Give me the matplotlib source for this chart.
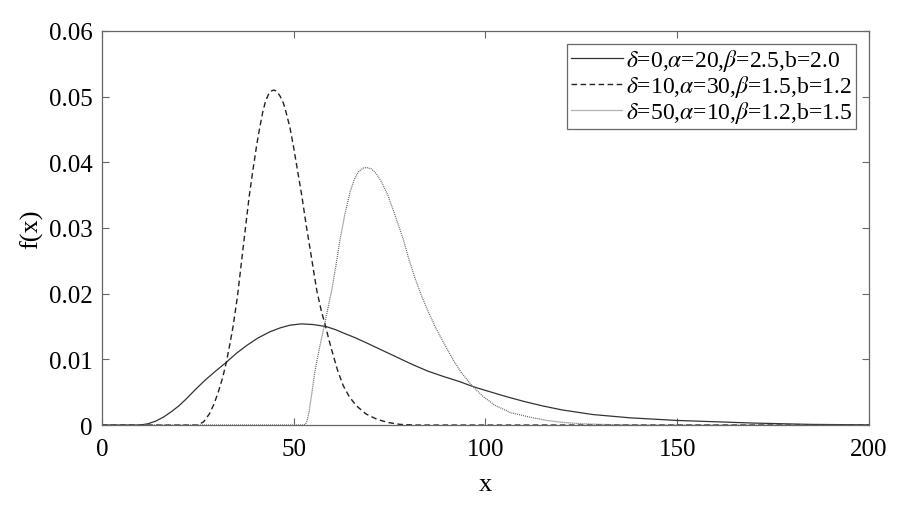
import matplotlib
matplotlib.use('Agg')
import matplotlib.pyplot as plt

plt.rcParams['font.family'] = ['Liberation Serif', 'DejaVu Serif']
plt.rcParams['mathtext.fontset'] = 'stix'

# Curve points
x_solid = [0, 10, 12, 14, 16, 18, 20, 22, 24.5, 27, 30, 32.5, 35, 37.7, 40.5, 43.8, 46.5, 49,
           52, 55, 58.4, 61, 63, 66, 69, 73, 77, 81, 85, 89, 93.3, 97, 101, 105, 110, 115,
           120, 128, 137.7, 150, 160, 170, 185, 200]
y_solid = [0, 0, 0.0002, 0.0006, 0.0012, 0.0020, 0.0029, 0.0040, 0.0055, 0.0069, 0.0084,
           0.0096, 0.0109, 0.0121, 0.0132, 0.0142, 0.0148, 0.0152, 0.0154, 0.0153, 0.0150,
           0.0145, 0.0140, 0.0133, 0.0125, 0.0114, 0.0103, 0.0092, 0.0082, 0.0074, 0.0066,
           0.0058, 0.0051, 0.0044, 0.0036, 0.0029, 0.0023, 0.0016, 0.0011, 0.0007, 0.0005,
           0.0003, 0.0001, 0.00003]

x_dash = [0, 25, 26.5, 28, 29.2, 30.3, 31.4, 32.4, 33.3, 34.2, 35.3, 36.4, 37.4, 38.4, 39.4,
          40.3, 41.1, 41.9, 42.6, 43.3, 44.0, 44.8, 45.6, 46.5, 47.3, 48.0, 49.0, 49.9, 51.0,
          52.1, 53.2, 54.4, 55.2, 56, 57.1, 58.3, 59.3, 60.3, 61.5, 62.9, 64.5, 66.4, 68.8,
          71.6, 74.5, 77.7, 82, 200]
y_dash = [0, 0, 0.0005, 0.0017, 0.0032, 0.0050, 0.0071, 0.0095, 0.0122, 0.0151, 0.0195,
          0.0250, 0.0300, 0.0349, 0.0390, 0.0425, 0.0452, 0.0476, 0.0492, 0.0502, 0.0508,
          0.0510, 0.0508, 0.0500, 0.0490, 0.0476, 0.0453, 0.0425, 0.0387, 0.0349, 0.0306,
          0.0263, 0.0234, 0.0205, 0.0176, 0.0150, 0.0127, 0.0106, 0.0082, 0.0060, 0.0043,
          0.0029, 0.0017, 0.0009, 0.0004, 0.0001, 0, 0]

x_dot = [0, 52.5, 53.0, 53.4, 54.0, 54.7, 55.5, 56.8, 58.2, 59.9, 61.0, 62.0, 63.3, 64.7,
         65.8, 66.8, 68.0, 69.0, 70.2, 71.5, 72.9, 74.6, 76.5, 78.6, 80.1, 81.6, 83.3, 85.1,
         87.2, 89.4, 91.6, 93.8, 96.8, 99.5, 102.5, 106.5, 111.6, 116, 120.3, 125, 130, 140,
         200]
y_dot = [0, 0, 0.0001, 0.0005, 0.0020, 0.0048, 0.0081, 0.0120, 0.0158, 0.0205, 0.0243,
         0.0280, 0.0320, 0.0355, 0.0374, 0.0385, 0.0391, 0.0392, 0.0390, 0.0383, 0.0370,
         0.0349, 0.0318, 0.0282, 0.0251, 0.0224, 0.0197, 0.0172, 0.0146, 0.0122, 0.0099,
         0.0079, 0.0058, 0.0043, 0.0030, 0.0019, 0.0012, 0.0007, 0.0004, 0.0002, 0.0001, 0, 0]

labels = [r'$\delta$=0,$\alpha$=20,$\beta$=2.5,b=2.0',
          r'$\delta$=10,$\alpha$=30,$\beta$=1.5,b=1.2',
          r'$\delta$=50,$\alpha$=10,$\beta$=1.2,b=1.5']

xticks = [0, 50, 100, 150, 200]
yticks = [0, 0.01, 0.02, 0.03, 0.04, 0.05, 0.06]
ytick_labels = ['0', '0.01', '0.02', '0.03', '0.04', '0.05', '0.06']

fig = plt.figure(figsize=(9.07, 5.06), dpi=100)
ax = fig.add_axes([0.1125, 0.158, 0.8455, 0.779])

ax.plot(x_solid, y_solid, '-', color='#333333', linewidth=0.9, label=labels[0])
ax.plot(x_dash, y_dash, '--', color='#222222', linewidth=1.0, dashes=(4, 2.5), label=labels[1])
ax.plot(x_dot, y_dot, ':', color='#666666', linewidth=0.9, dashes=(0.8, 0.8), label=labels[2])

ax.set_xlim(0, 200)
ax.set_ylim(0, 0.06)
ax.set_xticks(xticks)
ax.set_yticks(yticks)
ax.set_yticklabels(ytick_labels)
ax.tick_params(direction='in', top=True, right=True, length=5, width=0.8,
               color='#666666', labelsize=18)
ax.tick_params(axis='x', pad=9)
ax.tick_params(axis='y', pad=7)
for s in ax.spines.values():
    s.set_color('#666666')
    s.set_linewidth(0.9)

ax.set_xlabel('x', fontsize=19, labelpad=10)
ax.set_ylabel('f(x)', fontsize=19, labelpad=4)

leg = ax.legend(loc='upper right', fontsize=17, frameon=True, fancybox=False,
                handlelength=2.2, handletextpad=0.15, borderpad=0.15,
                labelspacing=0.0, borderaxespad=0.55)
leg.get_frame().set_edgecolor('#444444')
leg.get_frame().set_linewidth(0.9)

fig.savefig('out.png', dpi=100)
